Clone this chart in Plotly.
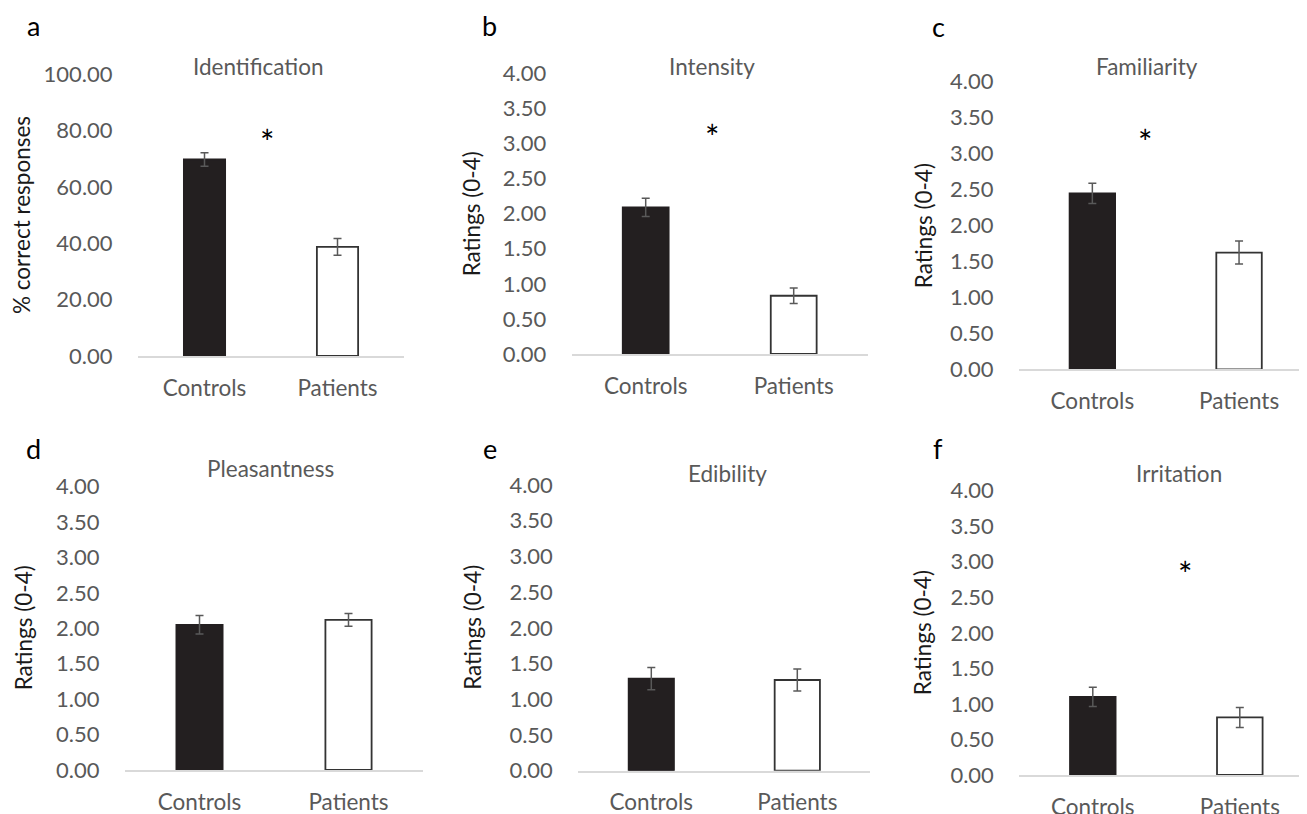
import plotly.graph_objects as go

# page body adds an 8px margin; build the figure in the window's pixel frame shifted by it
OFF = 8
W, H = 1307 - OFF, 814 - OFF

categories = ["Controls", "Patients"]
panel_letters = ["a", "b", "c", "d", "e", "f"]
panel_titles = ["Identification", "Intensity", "Familiarity", "Pleasantness", "Edibility", "Irritation"]
y_titles = ["% correct responses", "Ratings (0-4)", "Ratings (0-4)", "Ratings (0-4)", "Ratings (0-4)", "Ratings (0-4)"]

controls_mean = [69.7, 2.09, 2.44, 2.05, 1.29, 1.10]
controls_err = [2.4, 0.13, 0.14, 0.13, 0.155, 0.135]
patients_mean = [38.7, 0.83, 1.62, 2.12, 1.27, 0.81]
patients_err = [3.0, 0.11, 0.16, 0.09, 0.155, 0.14]

y_max = [100, 4, 4, 4, 4, 4]
y_dtick = [20, 0.5, 0.5, 0.5, 0.5, 0.5]

# significance markers: (panel index, x position in category units, y value)
star_panels = [0, 1, 2, 5]
star_x = [0.47, 0.45, 0.36, 0.63]
star_y = [79, 3.22, 3.27, 2.95]

# layout geometry in window pixels: plot-area left, right, top(=y max), bottom(=0)
boxes = [
    (138, 404, 74, 356),
    (571.7, 868, 73.3, 354),
    (1019, 1307, 81, 369.3),
    (125, 423, 486.7, 770),
    (578.3, 870, 485, 770.7),
    (1019.3, 1307, 490.7, 775),
]
cat_px = [133, 148, 146.7, 149, 146, 147]
title_pos = [(258, 67), (711.7, 66.7), (1146.7, 67), (270, 468.3), (727.7, 473.3), (1179.3, 473.3)]
letter_pos = [(33, 25), (489, 25), (938, 27), (33, 448), (490, 448), (938, 448)]
ytitle_x = [22, 471.7, 923, 23, 473, 923.3]


def px(v):
    return (v - OFF) / W


def py(v):
    return 1 - (v - OFF) / H


FONT = "Lato"
GRAY = "#595959"
DARK = "#231f20"

fig = go.Figure()
annotations = []

for i in range(6):
    l, r, t, b = boxes[i]
    xa = "x" if i == 0 else f"x{i+1}"
    ya = "y" if i == 0 else f"y{i+1}"
    xkey = "xaxis" if i == 0 else f"xaxis{i+1}"
    ykey = "yaxis" if i == 0 else f"yaxis{i+1}"
    fig.add_trace(go.Bar(
        x=categories, y=[controls_mean[i], patients_mean[i]],
        error_y=dict(type="data", array=[controls_err[i], patients_err[i]],
                     color=GRAY, thickness=1.5, width=4),
        marker=dict(color=[DARK, "white"], line=dict(color=[DARK, "#333333"], width=1.8)),
        width=0.31, xaxis=xa, yaxis=ya, showlegend=False, hoverinfo="skip",
    ))
    r_eff = min(r, 1307)
    xr_hi = -0.5 + (r_eff - l) / cat_px[i]
    fig.update_layout(**{
        xkey: dict(domain=[px(l), min(px(r_eff), 1.0)], anchor=ya, range=[-0.5, xr_hi], automargin=False,
                   showline=True, linecolor="#d9d9d9", linewidth=1.5,
                   showgrid=False, zeroline=False, ticks="outside", ticklen=11,
                   tickcolor="rgba(0,0,0,0)",
                   tickfont=dict(family=FONT, size=22.5, color=GRAY), fixedrange=True),
        ykey: dict(domain=[py(b), py(t)], anchor=xa, range=[0, y_max[i]], automargin=False,
                   dtick=y_dtick[i], tick0=0, tickformat=".2f",
                   showline=False, showgrid=False, zeroline=False,
                   ticks="outside", ticklen=20, tickcolor="rgba(0,0,0,0)",
                   tickfont=dict(family=FONT, size=22, color=GRAY), fixedrange=True),
    })
    tx, ty = title_pos[i]
    annotations.append(dict(text=panel_titles[i], x=px(tx), y=py(ty), xref="paper", yref="paper",
                            showarrow=False, xanchor="center", yanchor="middle",
                            font=dict(family=FONT, size=22.5, color=GRAY)))
    lx, ly = letter_pos[i]
    annotations.append(dict(text=panel_letters[i], x=px(lx), y=py(ly), xref="paper", yref="paper",
                            showarrow=False, xanchor="center", yanchor="middle",
                            font=dict(family=FONT, size=27, color="black")))
    annotations.append(dict(text=y_titles[i], x=px(ytitle_x[i]), y=py((t + b) / 2),
                            xref="paper", yref="paper", textangle=-90,
                            showarrow=False, xanchor="center", yanchor="middle",
                            font=dict(family=FONT, size=22.5, color="#1a1a1a")))

for k, p in enumerate(star_panels):
    xa = "x" if p == 0 else f"x{p+1}"
    ya = "y" if p == 0 else f"y{p+1}"
    annotations.append(dict(text="*", x=star_x[k], y=star_y[k], xref=xa, yref=ya,
                            showarrow=False, xanchor="center", yanchor="middle", yshift=-8,
                            font=dict(family=FONT, size=34, color="black")))

fig.update_layout(template="none", width=W, height=H, margin=dict(l=0, r=0, t=0, b=0),
                  paper_bgcolor="white", plot_bgcolor="white",
                  annotations=annotations, bargap=0.69)

fig.write_html("out.html", config={"displayModeBar": False})
